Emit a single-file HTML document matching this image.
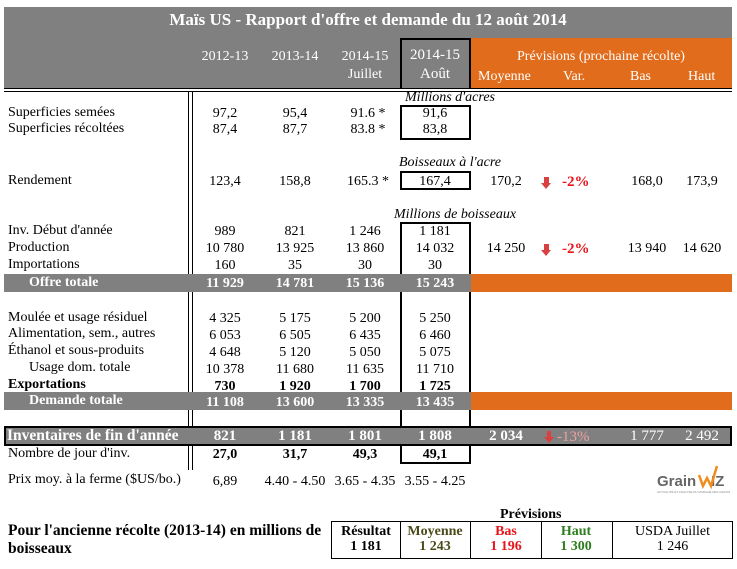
<!DOCTYPE html>
<html><head><meta charset="utf-8">
<style>
body{margin:0;width:737px;height:569px;background:#fff;position:relative;overflow:hidden;font-family:"Liberation Serif",serif;font-size:14px;color:#000}
div{position:absolute;box-sizing:border-box}
.c{width:70px;text-align:center;line-height:15px;white-space:nowrap}
.l{left:8px;line-height:15px;white-space:nowrap}
.w{color:#fff;font-weight:bold}
.b{font-weight:bold}
.i{font-style:italic}
.hd{color:#fff;font-size:14px}
.red{color:#e8141a;font-weight:bold}
.arr{width:0;height:0}
</style></head><body>
<div style="left:4px;top:7px;width:728px;height:82px;background:#808080"></div>
<div style="left:470px;top:38px;width:262px;height:51px;background:#e06c1c"></div>
<div style="left:4px;top:10px;width:728px;text-align:center;color:#fff;font-weight:bold;font-size:17px">Maïs US - Rapport d'offre et demande du 12 août 2014</div>
<div class="c hd" style="left:190px;top:49px">2012-13</div>
<div class="c hd" style="left:260px;top:49px">2013-14</div>
<div class="c hd" style="left:330px;top:49px">2014-15<br><span style="line-height:22px">Juillet</span></div>
<div style="left:400px;top:38px;width:71px;height:51px;border:2px solid #000;border-bottom:none"></div>
<div class="c hd" style="left:400px;top:48px;font-size:15px">2014-15<br><span style="line-height:22px">Août</span></div>
<div class="hd" style="left:470px;top:49px;width:262px;text-align:center">Prévisions (prochaine récolte)</div>
<div class="hd" style="left:478px;top:69px">Moyenne</div>
<div class="hd" style="left:563px;top:69px">Var.</div>
<div class="hd" style="left:630px;top:69px">Bas</div>
<div class="hd" style="left:688px;top:69px">Haut</div>
<div style="left:4px;top:88px;width:728px;height:4px;border-top:1px solid #000;border-bottom:1px solid #000"></div>
<div style="left:188px;top:91px;width:5px;height:379px;border-left:1px solid #000;border-right:1px solid #000"></div>

<div class="c i" style="top:90px;width:110px;left:395px">Millions d'acres</div>
<div style="left:400px;top:105px;width:71px;height:35px;border:2px solid #000"></div>
<div class="l" style="top:105px">Superficies semées</div>
<div class="c" style="left:190px;top:106px">97,2</div>
<div class="c" style="left:260px;top:106px">95,4</div>
<div class="c" style="left:333px;top:106px">91.6 *</div>
<div class="c" style="left:400px;top:106px">91,6</div>
<div class="l" style="top:121px">Superficies récoltées</div>
<div class="c" style="left:190px;top:122px">87,4</div>
<div class="c" style="left:260px;top:122px">87,7</div>
<div class="c" style="left:333px;top:122px">83.8 *</div>
<div class="c" style="left:400px;top:122px">83,8</div>

<div class="c i" style="left:390px;top:155px;width:120px">Boisseaux à l'acre</div>
<div style="left:400px;top:171px;width:71px;height:19px;border:2px solid #000"></div>
<div class="l" style="top:173px">Rendement</div>
<div class="c" style="left:190px;top:174px">123,4</div>
<div class="c" style="left:260px;top:174px">158,8</div>
<div class="c" style="left:333px;top:174px">165.3 *</div>
<div class="c" style="left:400px;top:174px">167,4</div>
<div class="c" style="left:471px;top:174px">170,2</div>
<div style="left:544px;top:177px;width:5px;height:6px;background:#d94040"></div>
<div class="arr" style="left:541px;top:183px;border-left:5.5px solid transparent;border-right:5.5px solid transparent;border-top:6px solid #d94040"></div>
<div class="red" style="left:562px;top:174px;font-size:15px">-2%</div>
<div class="c" style="left:612px;top:174px">168,0</div>
<div class="c" style="left:667px;top:174px">173,9</div>

<div class="c i" style="left:385px;top:207px;width:140px">Millions de boisseaux</div>
<div style="left:400px;top:222px;width:71px;height:242px;border:2px solid #000"></div>
<div class="l" style="top:223px">Inv. Début d'année</div>
<div class="c" style="left:190px;top:224px">989</div>
<div class="c" style="left:260px;top:224px">821</div>
<div class="c" style="left:330px;top:224px">1 246</div>
<div class="c" style="left:400px;top:224px">1 181</div>
<div class="l" style="top:240px">Production</div>
<div class="c" style="left:190px;top:241px">10 780</div>
<div class="c" style="left:260px;top:241px">13 925</div>
<div class="c" style="left:330px;top:241px">13 860</div>
<div class="c" style="left:400px;top:241px">14 032</div>
<div class="c" style="left:471px;top:241px">14 250</div>
<div style="left:544px;top:244px;width:5px;height:6px;background:#d94040"></div>
<div class="arr" style="left:541px;top:250px;border-left:5.5px solid transparent;border-right:5.5px solid transparent;border-top:6px solid #d94040"></div>
<div class="red" style="left:562px;top:241px;font-size:15px">-2%</div>
<div class="c" style="left:612px;top:241px">13 940</div>
<div class="c" style="left:667px;top:241px">14 620</div>
<div class="l" style="top:257px">Importations</div>
<div class="c" style="left:190px;top:258px">160</div>
<div class="c" style="left:260px;top:258px">35</div>
<div class="c" style="left:330px;top:258px">30</div>
<div class="c" style="left:400px;top:258px">30</div>

<div style="left:4px;top:274px;width:467px;height:18px;background:#808080"></div>
<div style="left:471px;top:274px;width:261px;height:18px;background:#e06c1c"></div>
<div class="l w" style="left:29px;top:275px">Offre totale</div>
<div class="c w" style="left:190px;top:276px">11 929</div>
<div class="c w" style="left:260px;top:276px">14 781</div>
<div class="c w" style="left:330px;top:276px">15 136</div>
<div class="c w" style="left:400px;top:276px">15 243</div>

<div class="l" style="top:310px">Moulée et usage résiduel</div>
<div class="c" style="left:190px;top:311px">4 325</div>
<div class="c" style="left:260px;top:311px">5 175</div>
<div class="c" style="left:330px;top:311px">5 200</div>
<div class="c" style="left:400px;top:311px">5 250</div>
<div class="l" style="top:326px">Alimentation, sem., autres</div>
<div class="c" style="left:190px;top:328px">6 053</div>
<div class="c" style="left:260px;top:328px">6 505</div>
<div class="c" style="left:330px;top:328px">6 435</div>
<div class="c" style="left:400px;top:328px">6 460</div>
<div class="l" style="top:343px">Éthanol et sous-produits</div>
<div class="c" style="left:190px;top:345px">4 648</div>
<div class="c" style="left:260px;top:345px">5 120</div>
<div class="c" style="left:330px;top:345px">5 050</div>
<div class="c" style="left:400px;top:345px">5 075</div>
<div class="l" style="left:29px;top:360px">Usage dom. totale</div>
<div class="c" style="left:190px;top:362px">10 378</div>
<div class="c" style="left:260px;top:362px">11 680</div>
<div class="c" style="left:330px;top:362px">11 635</div>
<div class="c" style="left:400px;top:362px">11 710</div>
<div class="l b" style="top:377px">Exportations</div>
<div class="c b" style="left:190px;top:379px">730</div>
<div class="c b" style="left:260px;top:379px">1 920</div>
<div class="c b" style="left:330px;top:379px">1 700</div>
<div class="c b" style="left:400px;top:379px">1 725</div>

<div style="left:4px;top:392px;width:467px;height:18px;background:#808080"></div>
<div style="left:471px;top:392px;width:261px;height:18px;background:#e06c1c"></div>
<div class="l w" style="left:29px;top:393px">Demande totale</div>
<div class="c w" style="left:190px;top:395px">11 108</div>
<div class="c w" style="left:260px;top:395px">13 600</div>
<div class="c w" style="left:330px;top:395px">13 335</div>
<div class="c w" style="left:400px;top:395px">13 435</div>

<div style="left:4px;top:426px;width:728px;height:20px;background:#808080;border:2px solid #000"></div>
<div class="l w" style="top:428px;font-size:15.5px;left:7px">Inventaires de fin d'année</div>
<div class="c w" style="left:190px;top:429px;font-size:15px">821</div>
<div class="c w" style="left:260px;top:429px;font-size:15px">1 181</div>
<div class="c w" style="left:330px;top:429px;font-size:15px">1 801</div>
<div class="c w" style="left:400px;top:429px;font-size:15px">1 808</div>
<div class="c w" style="left:471px;top:429px;font-size:15px">2 034</div>
<div style="left:547px;top:431px;width:4px;height:6px;background:#d94040"></div>
<div class="arr" style="left:544px;top:437px;border-left:5px solid transparent;border-right:5px solid transparent;border-top:6px solid #d94040"></div>
<div style="left:557px;top:429px;color:#f0a0a0;font-size:15px">-13%</div>
<div class="c" style="left:612px;top:429px;font-size:15px;color:#fff">1 777</div>
<div class="c" style="left:667px;top:429px;font-size:15px;color:#fff">2 492</div>

<div class="l" style="top:446px">Nombre de jour d'inv.</div>
<div class="c b" style="left:190px;top:447px">27,0</div>
<div class="c b" style="left:260px;top:447px">31,7</div>
<div class="c b" style="left:330px;top:447px">49,3</div>
<div class="c b" style="left:400px;top:447px">49,1</div>

<div class="l" style="top:472px">Prix moy. à la ferme ($US/bo.)</div>
<div class="c" style="left:190px;top:474px">6,89</div>
<div class="c" style="left:260px;top:474px">4.40 - 4.50</div>
<div class="c" style="left:330px;top:474px">3.65 - 4.35</div>
<div class="c" style="left:400px;top:474px">3.55 - 4.25</div>

<div style="left:655px;top:462px;width:75px;height:34px">
<svg width="75" height="34"><text x="2" y="24" font-family="Liberation Sans" font-size="15" fill="#666" font-weight="bold">Grain</text><text x="56" y="24" font-family="Liberation Sans" font-size="15" fill="#666" font-weight="bold">IZ</text><polyline points="44,13 48,24 52,16 56,24 62,4" stroke="#f08c1c" stroke-width="2.5" fill="none"/><text x="2" y="31" font-size="3" fill="#888" font-family="Liberation Sans">ACTUALITÉ ET ANALYSE DU MARCHÉ DES GRAINS</text></svg></div>

<div class="b" style="left:500px;top:507px;font-size:14px">Prévisions</div>
<div class="b" style="left:8px;top:522px;font-size:15.5px;line-height:18px;width:330px">Pour l'ancienne récolte (2013-14) en millions de boisseaux</div>
<div style="left:331px;top:521px;width:402px;height:38px;border:1px solid #000"></div>
<div style="left:400px;top:521px;width:1px;height:38px;background:#000"></div>
<div style="left:470px;top:521px;width:1px;height:38px;background:#000"></div>
<div style="left:541px;top:521px;width:1px;height:38px;background:#000"></div>
<div style="left:612px;top:521px;width:1px;height:38px;background:#000"></div>
<div class="c b" style="left:331px;top:524px">Résultat<br>1 181</div>
<div class="c b" style="left:400px;top:524px;color:#4a4a1a">Moyenne<br>1 243</div>
<div class="c b" style="left:471px;top:524px;color:#e8141a">Bas<br>1 196</div>
<div class="c b" style="left:541px;top:524px;color:#2e7d1e">Haut<br>1 300</div>
<div class="c" style="left:612px;top:524px;width:121px">USDA Juillet<br>1 246</div>
</body></html>
